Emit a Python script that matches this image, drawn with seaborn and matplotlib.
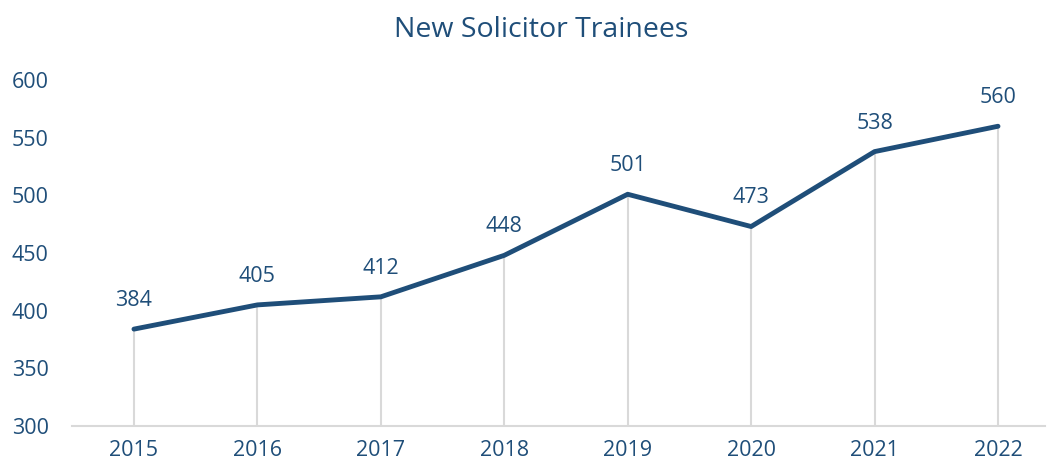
import pandas as pd
import matplotlib.pyplot as plt
import seaborn as sns

years = ['2015', '2016', '2017', '2018', '2019', '2020', '2021', '2022']
trainees = [384, 405, 412, 448, 501, 473, 538, 560]

navy = '#1F4E79'
grey = '#D9D9D9'

sns.set_style('white')
plt.rcParams['font.family'] = ['Open Sans', 'DejaVu Sans']

df = pd.DataFrame({'year': years, 'trainees': trainees})
df['pos'] = range(len(df))

fig = plt.figure(figsize=(10.47, 4.66), dpi=100)
ax = fig.add_axes([0.069, 0.086, 0.929, 0.742])

# drop lines from each point down to the axis
ax.vlines(df['pos'], 300, df['trainees'], color=grey, linewidth=1.5, zorder=1)
sns.lineplot(data=df, x='pos', y='trainees', color=navy, linewidth=3.5, ax=ax, zorder=3)

for p, v in zip(df['pos'], df['trainees']):
    ax.annotate(str(v), (p, v), xytext=(0, 13), textcoords='offset points',
                ha='center', va='bottom', color=navy, fontsize=15.5)

ax.set_xlim(-0.5, 7.38)
ax.set_ylim(300, 600)
ax.set_yticks(range(300, 601, 50))
ax.set_xticks(df['pos'])
ax.set_xticklabels(years)
ax.tick_params(axis='both', length=0, labelsize=15.5, labelcolor=navy)
ax.tick_params(axis='y', pad=17)
ax.tick_params(axis='x', pad=10)
ax.set_xlabel('')
ax.set_ylabel('')
for s in ['top', 'right', 'left']:
    ax.spines[s].set_visible(False)
ax.spines['bottom'].set_color(grey)
ax.spines['bottom'].set_linewidth(1.5)

fig.text(0.517, 0.935, 'New Solicitor Trainees', ha='center', va='center',
         color=navy, fontsize=20.5)

plt.savefig('out.png', dpi=100)
